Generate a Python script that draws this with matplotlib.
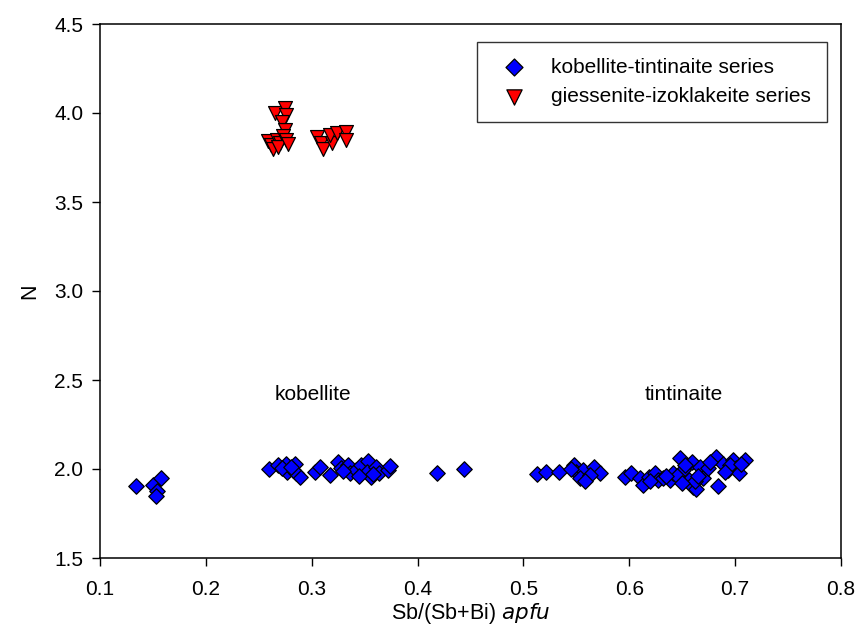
import numpy as np
import matplotlib
matplotlib.use("Agg")
from matplotlib import pyplot as plt

plt.rcParams['font.family'] = ['Liberation Sans', 'DejaVu Sans']

# kobellite-tintinaite series: Sb/(Sb+Bi) vs N
kob_x = [0.134, 0.150, 0.158, 0.154, 0.153,
         0.260, 0.268, 0.276, 0.277, 0.284, 0.285, 0.289, 0.282, 0.272, 0.280,
         0.303, 0.308, 0.317, 0.325, 0.328, 0.334, 0.336, 0.342, 0.347, 0.353,
         0.352, 0.356, 0.361, 0.364, 0.372, 0.374, 0.345, 0.330, 0.358,
         0.418, 0.444,
         0.513, 0.521, 0.534, 0.548, 0.550, 0.556, 0.553, 0.567, 0.572, 0.563,
         0.558, 0.545,
         0.596, 0.602, 0.610, 0.613, 0.619, 0.624, 0.627, 0.632, 0.638, 0.641,
         0.648, 0.651, 0.656, 0.659, 0.660, 0.663, 0.667, 0.670, 0.674, 0.682,
         0.684, 0.689, 0.693, 0.698, 0.701, 0.704, 0.709, 0.645, 0.653, 0.662,
         0.676, 0.695, 0.706, 0.620, 0.635, 0.650, 0.665, 0.690]
kob_y = [1.906, 1.910, 1.950, 1.876, 1.850,
         2.000, 2.020, 2.030, 1.985, 2.030, 1.976, 1.957, 1.994, 2.005, 2.010,
         1.985, 2.010, 1.966, 2.040, 2.004, 2.020, 1.976, 1.994, 2.020, 2.045,
         1.985, 1.957, 2.010, 1.976, 1.994, 2.015, 1.960, 1.990, 1.970,
         1.980, 2.000,
         1.970, 1.985, 1.985, 2.025, 1.985, 1.994, 1.950, 2.010, 1.976, 1.966,
         1.935, 2.000,
         1.957, 1.976, 1.948, 1.910, 1.957, 1.976, 1.940, 1.948, 1.940, 1.976,
         2.060, 1.994, 1.940, 2.040, 1.900, 1.890, 2.010, 1.948, 2.004, 2.065,
         1.905, 2.030, 1.994, 2.050, 2.004, 1.976, 2.050, 1.960, 2.020, 1.930,
         2.040, 2.020, 2.030, 1.935, 1.960, 1.920, 1.960, 1.985]

# giessenite-izoklakeite series
gie_x = [0.265, 0.2745, 0.276, 0.272, 0.2745, 0.259, 0.262, 0.267, 0.2705,
         0.273, 0.276, 0.2636, 0.268, 0.278,
         0.305, 0.309, 0.311, 0.319, 0.317, 0.3236, 0.332, 0.332]
gie_y = [4.002, 4.026, 3.990, 3.950, 3.905, 3.840, 3.820, 3.850, 3.830,
         3.870, 3.850, 3.800, 3.810, 3.825,
         3.867, 3.830, 3.800, 3.830, 3.876, 3.886, 3.895, 3.850]

fig = plt.figure(figsize=(8.56, 6.44), dpi=100)
ax = fig.add_axes([100/856, 1 - 558/644, 741/856, 534/644])

ax.scatter(kob_x, kob_y, marker='D', s=62, c='#0000ff', edgecolors='black',
           linewidths=0.9, label='kobellite-tintinaite series', zorder=3)
ax.scatter(gie_x, gie_y, marker='v', s=100, c='#ff0000', edgecolors='black',
           linewidths=0.9, label='giessenite-izoklakeite series', zorder=3)

ax.text(0.301, 2.42, 'kobellite', ha='center', va='center', fontsize=15)
ax.text(0.651, 2.42, 'tintinaite', ha='center', va='center', fontsize=15)

ax.set_xlim(0.1, 0.8)
ax.set_ylim(1.5, 4.5)
ax.set_xticks(np.arange(0.1, 0.81, 0.1))
ax.set_yticks(np.arange(1.5, 4.51, 0.5))
ax.xaxis.set_major_formatter(matplotlib.ticker.FormatStrFormatter('%.1f'))
ax.yaxis.set_major_formatter(matplotlib.ticker.FormatStrFormatter('%.1f'))
ax.tick_params(direction='out', length=6, width=1, labelsize=15)
ax.tick_params(axis='x', pad=10)
ax.tick_params(axis='y', pad=6)
for sp in ax.spines.values():
    sp.set_linewidth(1.1)

ax.set_xlabel('Sb/(Sb+Bi) $\\it{apfu}$', fontsize=15.5, labelpad=1)
ax.set_ylabel('N', fontsize=15.5, labelpad=10)

leg = ax.legend(loc='upper right', bbox_to_anchor=(0.981, 0.966), fontsize=15,
                frameon=True, fancybox=False, edgecolor='black',
                borderpad=0.75, handletextpad=0.8, labelspacing=0.5,
                borderaxespad=0, scatterpoints=1, markerscale=1.1)
leg.get_frame().set_linewidth(1.0)

fig.savefig('out.png', dpi=100)
